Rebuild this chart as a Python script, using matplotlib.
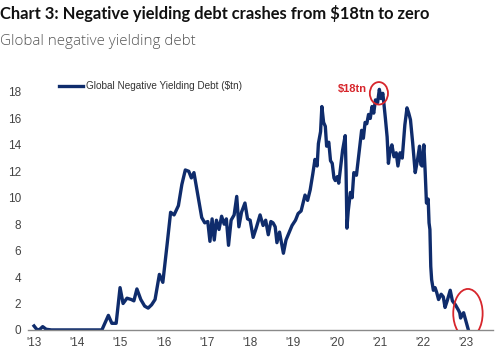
import matplotlib
matplotlib.use("Agg")
from matplotlib import pyplot as plt
from matplotlib.patches import Ellipse

# Global negative yielding debt ($tn) (decimal year, value)
years = [
    2013.00, 2013.06, 2013.12, 2013.20, 2013.28, 2013.40, 2014.00, 2014.57,
    2014.72, 2014.80, 2014.90, 2014.99, 2015.06, 2015.15, 2015.25, 2015.31,
    2015.38, 2015.47, 2015.56, 2015.64, 2015.72, 2015.80, 2015.90, 2015.98,
    2016.08, 2016.16, 2016.24, 2016.34, 2016.42, 2016.50, 2016.58, 2016.64,
    2016.70, 2016.78, 2016.88, 2016.95, 2017.02, 2017.07, 2017.12, 2017.17,
    2017.22, 2017.28, 2017.34, 2017.40, 2017.45, 2017.50, 2017.56, 2017.63,
    2017.69, 2017.74, 2017.80, 2017.88, 2017.94, 2018.00, 2018.07, 2018.14,
    2018.23, 2018.30, 2018.36, 2018.42, 2018.48, 2018.53, 2018.58, 2018.62,
    2018.68, 2018.77, 2018.83, 2018.88, 2018.97, 2019.05, 2019.11, 2019.18,
    2019.24, 2019.27, 2019.33, 2019.39, 2019.45, 2019.50, 2019.55, 2019.58,
    2019.63, 2019.66, 2019.70, 2019.74, 2019.77, 2019.82, 2019.86, 2019.90,
    2019.94, 2019.97, 2020.02, 2020.05, 2020.10, 2020.14, 2020.20, 2020.22,
    2020.24, 2020.27, 2020.32, 2020.36, 2020.40, 2020.46, 2020.52, 2020.58,
    2020.62, 2020.66, 2020.70, 2020.74, 2020.78, 2020.82, 2020.86, 2020.90,
    2020.95, 2020.99, 2021.03, 2021.07, 2021.09, 2021.13, 2021.17, 2021.20,
    2021.24, 2021.28, 2021.33, 2021.38, 2021.42, 2021.47, 2021.52, 2021.58,
    2021.63, 2021.67, 2021.71, 2021.76, 2021.82, 2021.87, 2021.92, 2021.95,
    2021.98, 2022.02, 2022.05, 2022.08, 2022.12, 2022.14, 2022.16, 2022.18,
    2022.20, 2022.24, 2022.28, 2022.32, 2022.36, 2022.42, 2022.47, 2022.51,
    2022.56, 2022.63, 2022.68, 2022.75, 2022.82, 2022.85, 2022.87, 2022.94,
    2023.00, 2023.05,
]
debt = [
    0.3, 0.05, 0.0, 0.25, 0.05, 0.0, 0.0, 0.0,
    1.1, 0.5, 0.5, 3.2, 2.0, 2.4, 2.3, 2.2,
    3.1, 2.3, 1.8, 1.65, 1.9, 2.3, 4.2, 3.6,
    6.5, 8.9, 8.7, 9.4, 11.0, 12.1, 12.0, 11.5,
    11.9, 10.4, 8.5, 8.1, 8.2, 6.7, 8.4, 6.8,
    8.3, 7.6, 8.6, 8.0, 8.4, 6.4, 8.3, 8.7,
    10.1, 7.8, 8.9, 9.6, 8.4, 8.3, 7.0, 7.7,
    8.7, 7.9, 8.3, 7.2, 8.2, 8.1, 7.8, 6.6,
    7.4, 5.8, 6.8, 7.2, 7.9, 8.3, 8.8, 9.0,
    9.8, 10.2, 9.8, 10.6, 11.8, 12.9, 12.4, 14.1,
    15.0, 16.9, 15.7, 15.4, 13.9, 14.2, 12.8, 12.6,
    11.5, 11.3, 11.6, 11.1, 12.5, 13.6, 14.7, 12.0,
    7.7, 9.0, 10.4, 10.0, 11.9, 11.7, 13.4, 15.1,
    14.5, 15.7, 15.6, 16.3, 16.0, 16.9, 16.4, 17.4,
    17.2, 18.2, 17.5, 17.9, 17.3, 16.0, 14.6, 12.6,
    13.6, 14.0, 13.1, 13.4, 12.4, 13.4, 13.0, 15.5,
    16.8, 16.4, 15.9, 14.2, 11.9, 12.8, 13.9, 12.5,
    12.4, 14.0, 12.0, 9.6, 9.9, 8.1, 7.6, 4.8,
    3.8, 3.0, 3.2, 2.8, 2.3, 2.7, 2.5, 1.7,
    2.2, 3.0, 2.2, 1.9, 1.5, 1.3, 0.9, 1.3,
    0.6, 0.0,
]

tick_years = list(range(2013, 2024))
tick_labels = ["'" + str(y)[2:] for y in tick_years]
y_ticks = list(range(0, 20, 2))

NAVY = '#0f2c6c'
RED = '#d7262c'
TICK_COLOR = '#444444'


def fit_width(fig, txt, target_px):
    # shrink/grow a text so it spans roughly target_px
    r = fig.canvas.get_renderer()
    w = txt.get_window_extent(renderer=r).width
    txt.set_fontsize(txt.get_fontsize() * target_px / w)


def main():
    fig = plt.figure(figsize=(5.0, 3.59), dpi=100)
    ax = fig.add_axes([0.056, 0.081, 0.930, 0.718])

    ax.plot(years, debt, color=NAVY, lw=2.4, solid_joinstyle='round',
            label='Global Negative Yielding Debt ($tn)')

    ax.set_xlim(2012.86, 2023.62)
    ax.set_ylim(0, 19.5)
    ax.set_xticks(tick_years)
    ax.set_xticklabels(tick_labels)
    ax.set_yticks(y_ticks)
    ax.tick_params(length=0, labelsize=8.5, colors=TICK_COLOR, pad=5)
    for lab in ax.get_xticklabels() + ax.get_yticklabels():
        lab.set_fontfamily('Liberation Sans')

    for side in ['top', 'right', 'left']:
        ax.spines[side].set_visible(False)
    ax.spines['bottom'].set_color('#8a8a8a')
    ax.spines['bottom'].set_linewidth(1.0)

    leg = ax.legend(loc='upper left', bbox_to_anchor=(0.048, 1.0), frameon=False,
                    handlelength=2.4, handletextpad=0.25,
                    prop={'family': 'Liberation Sans', 'size': 7.2})
    for t in leg.get_texts():
        t.set_color('#333333')

    # red highlights: the $18tn peak and the fall to zero
    ax.add_patch(Ellipse((2020.98, 17.9), 0.42, 1.7, fill=False,
                         edgecolor=RED, lw=1.3, zorder=5))
    ax.add_patch(Ellipse((2023.04, 1.25), 0.68, 3.7, fill=False,
                         edgecolor=RED, lw=1.3, zorder=5))
    ax.text(2020.71, 18.2, '$18tn', color=RED, fontsize=8, fontweight='bold',
            ha='right', va='center', family='Liberation Sans')

    title = fig.text(0.0, 0.963,
                     'Chart 3: Negative yielding debt crashes from $18tn to zero',
                     fontsize=12, fontweight='bold', family='Lato',
                     color='#111111', ha='left', va='center')
    sub = fig.text(0.0, 0.885, 'Global negative yielding debt', fontsize=11.5,
                   family='Open Sans', fontweight='light', color='#555555',
                   ha='left', va='center')
    fit_width(fig, title, 430)
    fit_width(fig, sub, 195)

    fig.savefig('out.png', dpi=100)


if __name__ == "__main__":
    main()
